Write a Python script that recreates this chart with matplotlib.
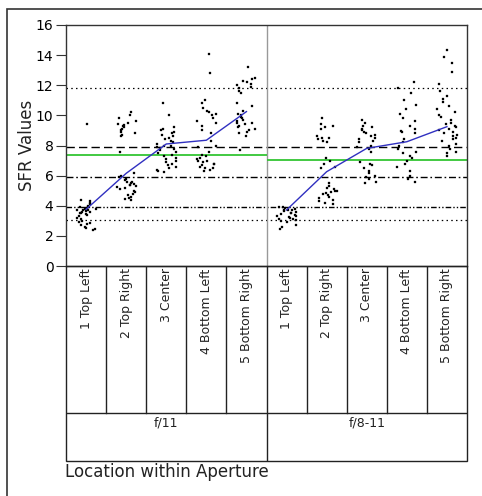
import matplotlib
matplotlib.use("Agg")
import matplotlib.pyplot as plt
from matplotlib.patches import Rectangle
import numpy as np

# ---------------- data ----------------
locations = ["1 Top Left", "2 Top Right", "3 Center", "4 Bottom Left", "5 Bottom Right"]
apertures = ["f/11", "f/8-11"]

f11_top_left = [9.45, 4.4, 4.3, 4.2, 4.1, 4.0, 3.95, 3.9, 3.85, 3.8, 3.8, 3.75, 3.7, 3.7, 3.65,
                3.6, 3.6, 3.55, 3.5, 3.45, 3.4, 3.3, 3.2, 3.1, 3.0, 2.9, 2.85, 2.8, 2.7, 2.6, 2.5, 2.45, 2.4]
f11_top_right = [10.2, 10.0, 9.8, 9.6, 9.5, 9.4, 9.35, 9.3, 9.2, 9.1, 9.0, 8.9, 8.8, 8.7, 8.6, 7.6,
                 6.2, 6.0, 5.9, 5.8, 5.7, 5.6, 5.55, 5.5, 5.45, 5.4, 5.35, 5.3, 5.25, 5.2, 5.1, 5.0,
                 4.9, 4.8, 4.7, 4.6, 4.5, 4.45, 4.4]
f11_center = [10.85, 10.0, 9.2, 9.1, 9.0, 8.9, 8.8, 8.7, 8.6, 8.5, 8.4, 8.3, 8.2, 8.1, 8.0, 7.95,
              7.9, 7.85, 7.8, 7.7, 7.6, 7.5, 7.4, 7.3, 7.2, 7.1, 7.0, 6.9, 6.8, 6.7, 6.6, 6.5,
              6.4, 6.3, 6.25]
f11_bottom_left = [14.1, 12.8, 11.0, 10.8, 10.5, 10.3, 10.2, 10.1, 10.0, 9.8, 9.6, 9.5, 9.3, 9.0,
                   8.8, 8.3, 8.0, 7.9, 7.6, 7.4, 7.3, 7.2, 7.1, 7.0, 6.95, 6.9, 6.8, 6.75, 6.7,
                   6.6, 6.5, 6.5, 6.4, 6.3]
f11_bottom_right = [13.2, 12.5, 12.4, 12.3, 12.2, 12.1, 12.0, 11.9, 11.8, 11.6, 11.5, 10.8, 10.6,
                    10.3, 10.1, 10.0, 9.9, 9.8, 9.7, 9.6, 9.5, 9.5, 9.4, 9.3, 9.2, 9.1, 9.0, 8.9,
                    8.8, 8.6, 7.7]

f811_top_left = [3.95, 3.9, 3.85, 3.8, 3.75, 3.7, 3.7, 3.65, 3.6, 3.55, 3.5, 3.45, 3.4, 3.35, 3.3,
                 3.25, 3.2, 3.15, 3.1, 3.05, 3.0, 2.9, 2.75, 2.6, 2.45]
f811_top_right = [9.8, 9.4, 9.3, 9.2, 9.1, 8.6, 8.5, 8.5, 8.4, 8.3, 8.2, 7.2, 7.0, 6.8, 6.6, 6.5,
                  5.5, 5.3, 5.2, 5.1, 5.0, 4.95, 4.9, 4.85, 4.8, 4.7, 4.6, 4.5, 4.4, 4.3, 4.2, 4.1]
f811_center = [9.7, 9.5, 9.3, 9.2, 9.1, 9.0, 8.9, 8.8, 8.7, 8.6, 8.5, 8.4, 8.3, 8.2, 8.0, 7.9,
               7.8, 7.6, 6.9, 6.8, 6.7, 6.5, 6.3, 6.2, 6.0, 5.9, 5.8, 5.6, 5.5]
f811_bottom_left = [12.2, 11.8, 11.5, 11.0, 10.7, 10.4, 10.1, 9.8, 9.6, 9.3, 9.1, 8.95, 8.9, 8.8,
                    8.4, 8.2, 8.0, 7.8, 7.6, 7.5, 7.3, 7.2, 7.0, 6.8, 6.6, 6.3, 6.0, 5.8, 5.6]
f811_bottom_right = [14.35, 13.9, 13.45, 12.9, 12.1, 11.6, 11.3, 11.1, 10.9, 10.6, 10.4, 10.2,
                     10.0, 9.9, 9.7, 9.5, 9.4, 9.3, 9.2, 9.1, 9.0, 8.9, 8.8, 8.7, 8.6, 8.5, 8.4,
                     8.3, 8.1, 8.0, 7.8, 7.6, 7.5, 7.3]

cell_means_f11 = [3.76, 6.15, 8.1, 8.35, 10.25]
cell_means_f811 = [3.72, 6.26, 7.81, 8.25, 9.25]
group_means = [7.39, 7.04]

# horizontal reference lines
ref_upper_dotted = 11.84
ref_dashed = 7.92
ref_dashdot = 5.89
ref_dashdotdot = 3.94
ref_lower_dotted = 3.05

y_ticks = [0, 2, 4, 6, 8, 10, 12, 14, 16]

cells = [f11_top_left, f11_top_right, f11_center, f11_bottom_left, f11_bottom_right,
         f811_top_left, f811_top_right, f811_center, f811_bottom_left, f811_bottom_right]

# ---------------- figure ----------------
W, H = 482, 496
fig = plt.figure(figsize=(W / 100, H / 100), dpi=100)
fig.patch.set_facecolor("white")

def fx(px):
    return px / W

def fy(py):
    return 1 - py / H

L, R, T, B = 66, 467, 25, 266
ax = fig.add_axes([fx(L), fy(B), (R - L) / W, (B - T) / H])
ax.set_xlim(0, 10)
ax.set_ylim(0, 16)

# reference lines
ax.axhline(ref_upper_dotted, color="black", lw=0.9, ls=(0, (1.2, 2.6)), zorder=1)
ax.axhline(ref_dashed, color="black", lw=1.0, ls=(0, (6, 3)), zorder=1)
ax.axhline(ref_dashdot, color="black", lw=1.0, ls=(0, (5, 2, 1.2, 2)), zorder=1)
ax.axhline(ref_dashdotdot, color="black", lw=1.0, ls=(0, (4, 1.5, 1, 1.5, 1, 1.5)), zorder=1)
ax.axhline(ref_lower_dotted, color="black", lw=0.9, ls=(0, (1.2, 2.6)), zorder=1)

# group means (green)
ax.hlines(group_means[0], 0, 5, color="#33c533", lw=1.3, zorder=2)
ax.hlines(group_means[1], 5, 10, color="#33c533", lw=1.3, zorder=2)

# panel divider
ax.axvline(5, color="#999999", lw=1.0, zorder=1)

# jittered points (deterministic scattered horizontal jitter)
for ci, vals in enumerate(cells):
    n = len(vals)
    idx = np.arange(n)
    u = np.mod(np.sin(idx * 12.9898 + ci * 78.233 + 1.0) * 43758.5453, 1.0)
    offs = (u - 0.5) * 0.5
    ax.plot(ci + 0.5 + offs, vals, ls="none", marker="s", ms=2.1, mfc="black",
            mec="black", mew=0.2, zorder=3)

# cell means (blue)
xc = np.arange(5) + 0.5
ax.plot(xc, cell_means_f11, color="#3030c0", lw=1.0, zorder=4)
ax.plot(xc + 5, cell_means_f811, color="#3030c0", lw=1.0, zorder=4)

ax.set_xticks([])
ax.set_yticks(y_ticks)
ax.set_yticklabels([str(t) for t in y_ticks], fontsize=10)
ax.tick_params(axis="y", direction="out", length=7, width=0.8, pad=2, color="#333333")
for s in ax.spines.values():
    s.set_color("#333333")
    s.set_linewidth(1.0)

# ---------------- label band ----------------
LB = 461
lab = fig.add_axes([fx(L), fy(LB), (R - L) / W, (LB - B) / H])
lab.set_xlim(0, 10)
lab.set_ylim(LB - B, 0)
lab.axis("off")
row1 = 413 - B
lc = "#222222"
lab.add_patch(Rectangle((0, 0), 10, LB - B, fill=False, ec=lc, lw=1.0, clip_on=False))
lab.plot([0, 10], [row1, row1], color=lc, lw=1.0)
for i in range(1, 10):
    lab.plot([i, i], [0, row1 if i != 5 else LB - B], color=lc, lw=1.0)
for i in range(10):
    lab.text(i + 0.5, 2.5, locations[i % 5], rotation=90, ha="center", va="top",
             fontsize=9, color="#222222")
for g in range(2):
    lab.text(g * 5 + 2.5, row1 + 3.5, apertures[g], ha="center", va="top",
             fontsize=9, color="#222222")

# ---------------- titles & frame ----------------
fig.text(fx(27), fy(145), "SFR Values", rotation=90, ha="center", va="center",
         fontsize=12, color="#222222")
fig.text(fx(65), fy(472), "Location within Aperture", ha="left", va="center",
         fontsize=12, color="#222222")

fig.patches.append(Rectangle((fx(7), -0.5), 2, fy(9) + 0.5, transform=fig.transFigure,
                             fill=False, ec="#333333", lw=1.2, figure=fig))

fig.savefig("out.png", dpi=100)
